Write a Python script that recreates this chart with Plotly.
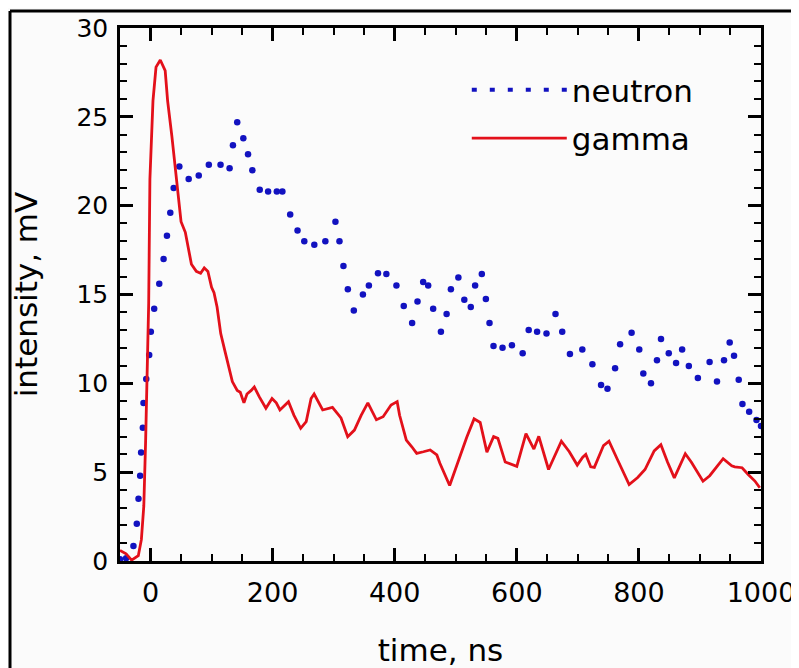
import plotly.graph_objects as go

# gamma (solid red line)
gamma_t = [-50, -40, -31, -20, -15, -11, -8, -6, -3, -1, 4, 9, 16, 24, 28, 35, 41, 46, 50, 57,
           62, 67, 75, 82, 88, 94, 100, 104, 109, 115, 122, 128, 134, 142, 147, 153, 158, 165, 170, 178,
           189, 199, 206, 212, 218, 226, 235, 246, 255, 263, 268, 282, 298, 312, 323, 334, 345, 356, 370, 381,
           394, 404, 408, 419, 428, 436, 447, 458, 469, 474, 490, 504, 518, 530, 540, 551, 562, 569, 581, 600,
           615, 628, 636, 652, 673, 686, 699, 708, 713, 721, 727, 742, 751, 765, 784, 798, 810, 825, 836, 847,
           858, 876, 886, 905, 916, 938, 952, 957, 969, 979, 990, 998]
gamma_v = [0.6, 0.4, 0.05, 0.3, 1.2, 3.1, 6.8, 10.2, 14.5, 21.5, 25.9, 27.8, 28.2, 27.6, 25.9, 23.9, 22.0, 20.3, 19.1, 18.5,
           17.5, 16.7, 16.3, 16.2, 16.5, 16.3, 15.4, 15.1, 14.3, 12.8, 11.8, 11.0, 10.1, 9.6, 9.5, 8.9, 9.4, 9.6, 9.8, 9.25,
           8.6, 9.15, 8.9, 8.5, 8.7, 8.97, 8.2, 7.47, 7.85, 9.15, 9.4, 8.5, 8.65, 8.05, 7.0, 7.37, 8.2, 8.9, 7.95, 8.12,
           8.78, 8.97, 8.2, 6.8, 6.43, 6.06, 6.15, 6.25, 5.97, 5.5, 4.25, 5.65, 6.96, 8.0, 7.8, 6.13, 7.0, 6.9, 5.57, 5.33,
           7.17, 6.3, 7.02, 5.15, 6.74, 6.15, 5.4, 5.84, 6.0, 5.3, 5.27, 6.5, 6.74, 5.7, 4.3, 4.7, 5.15, 6.2, 6.55, 5.56,
           4.68, 6.04, 5.56, 4.49, 4.8, 5.76, 5.36, 5.3, 5.25, 4.87, 4.5, 4.12]

# neutron (dotted blue)
neutron_t = [-50, -40, -28, -22.5, -19.7, -17, -15.4, -12.6, -11.5, -7, -2.2, 0.5, 6, 14.3, 21.4, 26.9, 32.4, 37.9, 47.2, 62.5,
             79, 95.5, 114.7, 129.5, 135, 142, 152, 159.7, 166.8, 178.9, 192.6, 206.9, 216, 228.8, 240.8, 251.9, 268.3, 286.4, 302.9, 309.5,
             316, 323.2, 333, 347.9, 357.7, 372.6, 386.3, 402.8, 414.8, 428.5, 437.3, 446.6, 454.8, 463, 475.7, 485, 492, 504.3, 514, 524.6,
             531.7, 542.7, 549.3, 555.3, 561.8, 576.6, 592, 609.6, 619.5, 633.2, 648.6, 663.4, 674.4, 687, 707.3, 723.8, 738, 748.5, 761, 769.2,
             788, 800.6, 807.2, 819.8, 829.6, 836.2, 848.9, 860.9, 870.8, 881.8, 896.6, 915.8, 927.9, 939.4, 948.7, 955.8, 963.5, 969.6, 980.6, 992.6, 1000]
neutron_v = [0.1, 0.15, 0.85, 2.1, 3.5, 4.8, 6.1, 7.5, 8.9, 10.25, 11.6, 12.9, 14.2, 15.6, 17.0, 18.3, 19.6, 21.0, 22.2, 21.5,
             21.7, 22.3, 22.3, 22.1, 23.4, 24.7, 23.8, 22.9, 22.0, 20.9, 20.8, 20.8, 20.8, 19.5, 18.6, 18.0, 17.8, 18.0, 19.1, 18.0,
             16.6, 15.3, 14.1, 15.0, 15.5, 16.2, 16.15, 15.5, 14.35, 13.4, 14.6, 15.7, 15.5, 14.2, 12.9, 13.9, 15.3, 15.95, 14.7, 14.3,
             15.5, 16.15, 14.75, 13.4, 12.1, 12.0, 12.15, 11.7, 13.0, 12.9, 12.8, 13.9, 12.9, 11.65, 11.9, 11.07, 9.9, 9.7, 10.85, 12.2,
             12.85, 11.9, 10.55, 10.0, 11.3, 12.5, 11.7, 11.15, 11.9, 10.98, 10.3, 11.2, 10.1, 11.3, 12.3, 11.55, 10.2, 8.84, 8.4, 7.94, 7.6]

x_range = [-50, 1000]
y_range = [0, 30]

BLUE = "#1212c0"
RED = "#e3101a"
FONT = "DejaVu Sans"

fig = go.Figure()
fig.add_trace(go.Scatter(x=neutron_t, y=neutron_v, mode="markers", name="neutron",
                         legendgroup="n", showlegend=False,
                         marker=dict(color=BLUE, size=6.5, line=dict(width=0)), cliponaxis=True))
fig.add_trace(go.Scatter(x=[None], y=[None], mode="lines", name="neutron", legendgroup="n",
                         line=dict(color=BLUE, width=4, dash="5px,13px")))
fig.add_trace(go.Scatter(x=gamma_t, y=gamma_v, mode="lines", name="gamma", legendgroup="g",
                         line=dict(color=RED, width=2.8)))

axis_common = dict(showline=True, linecolor="black", linewidth=2.5, mirror="ticks",
                   ticks="inside", tickcolor="black", tickwidth=2.5, ticklen=13,
                   showgrid=False, zeroline=False, automargin=False)

fig.update_xaxes(range=x_range, tick0=0, dtick=200,
                 minor=dict(ticks="inside", ticklen=7, tickwidth=2, tickcolor="black", dtick=50, tick0=0),
                 tickfont=dict(family=FONT, size=27, color="black"),
                 title=dict(text="time, ns", font=dict(family=FONT, size=31, color="black"), standoff=34),
                 ticklabelstandoff=6,
                 **axis_common)
fig.update_yaxes(range=y_range, tick0=0, dtick=5,
                 minor=dict(ticks="inside", ticklen=7, tickwidth=2, tickcolor="black", dtick=1, tick0=0),
                 tickfont=dict(family=FONT, size=25, color="black"),
                 title=dict(text="intensity, mV", font=dict(family=FONT, size=31, color="black"), standoff=31),
                 ticklabelstandoff=4,
                 **axis_common)

# page body has an 8px margin: figure is sized so the plot area lands at x 120-761, y 28-561
fig.update_layout(
    width=791, height=660,
    margin=dict(l=112, r=38, t=20, b=107),
    paper_bgcolor="#fbfbfb", plot_bgcolor="#fbfbfb",
    showlegend=True,
    legend=dict(x=0.541, y=0.934, xanchor="left", yanchor="top",
                bgcolor="rgba(0,0,0,0)", borderwidth=0,
                font=dict(family=FONT, size=31, color="black"),
                itemwidth=95, tracegroupgap=5),
    shapes=[
        dict(type="line", xref="paper", yref="paper", x0=-0.1716, x1=-0.1716, y0=-0.25, y1=1.0319,
             line=dict(color="black", width=3)),
        dict(type="line", xref="paper", yref="paper", x0=-0.1716, x1=1.07, y0=1.0319, y1=1.0319,
             line=dict(color="black", width=3)),
    ],
)

fig.write_html("out.html", config={"displayModeBar": False})
